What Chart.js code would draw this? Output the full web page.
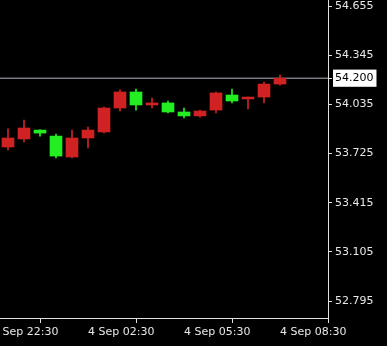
<!DOCTYPE html>
<html>
<head>
<meta charset="utf-8">
<script src="https://cdn.jsdelivr.net/npm/chart.js@4"></script>
<style>
  body { margin: 0; background: #000; }
  canvas { display: block; }
</style>
</head>
<body>
<canvas id="candles" width="387" height="346"></canvas>
<script>
// 30 minute candles, 3 Sep 23:00 -> 4 Sep 08:30
const opens  = [53.766, 53.817, 53.873, 53.835, 53.703, 53.823, 53.861, 54.012, 54.113, 54.031, 54.044, 53.987, 53.962, 53.999, 54.094, 54.069, 54.081, 54.163];
const highs  = [53.880, 53.936, 53.875, 53.848, 53.873, 53.892, 54.018, 54.126, 54.132, 54.075, 54.056, 54.012, 53.999, 54.113, 54.132, 54.081, 54.176, 54.220];
const lows   = [53.747, 53.798, 53.835, 53.697, 53.697, 53.760, 53.855, 53.993, 53.999, 54.012, 53.981, 53.949, 53.955, 53.981, 54.044, 54.006, 54.044, 54.156];
const closes = [53.823, 53.886, 53.854, 53.709, 53.823, 53.873, 54.012, 54.113, 54.031, 54.044, 53.987, 53.962, 53.993, 54.107, 54.056, 54.081, 54.163, 54.200];

const timeTicks  = [-1, 5, 11, 17];
const timeLabels = ['3 Sep 22:30', '4 Sep 02:30', '4 Sep 05:30', '4 Sep 08:30'];
const priceTicks = [52.795, 53.105, 53.415, 53.725, 54.035, 54.345, 54.655];
const lastPrice = 54.200;

const upColor = '#d02222';
const downColor = '#22ee22';

const bodies = opens.map((o, i) => ({ x: i, y: [o, closes[i]] }));
const wicks = highs.map((h, i) => ({ x: i, y: [lows[i], h] }));
const colors = opens.map((o, i) => closes[i] >= o ? upColor : downColor);

Chart.defaults.font.family = 'DejaVu Sans';
Chart.defaults.font.size = 11;

// no extra room for labels that hang over the plot edges
function noPad(s) {
    s.paddingLeft = 0;
    s.paddingRight = 0;
    s.paddingTop = 0;
    s.paddingBottom = 0;
}

const ctx = document.getElementById('candles').getContext('2d');
new Chart(ctx, {
    type: 'bar',
    data: {
        datasets: [
            {
                data: bodies,
                backgroundColor: colors,
                barThickness: 12,
                grouped: false,
                order: 0
            },
            {
                data: wicks,
                backgroundColor: colors,
                barThickness: 1,
                grouped: false,
                order: 1
            },
            {
                type: 'line',
                data: [{ x: -0.5, y: lastPrice }, { x: 20, y: lastPrice }],
                borderColor: '#b4b4c4',
                borderWidth: 1,
                pointRadius: 0,
                order: 2
            }
        ]
    },
    options: {
        responsive: false,
        animation: false,
        layout: { padding: 0 },
        plugins: { legend: { display: false }, tooltip: { enabled: false } },
        scales: {
            x: {
                type: 'linear',
                min: -0.5,
                max: 20,
                offset: false,
                afterBuildTicks: s => { s.ticks = timeTicks.map(v => ({ value: v })); },
                afterFit: s => { s.height = 28; noPad(s); },
                grid: { drawOnChartArea: false, color: '#e0e0e0', tickLength: 5 },
                border: { color: '#e0e0e0' },
                ticks: {
                    color: '#e8e8e8',
                    align: 'start',
                    padding: 3,
                    autoSkip: false,
                    maxRotation: 0,
                    callback: v => timeLabels[timeTicks.indexOf(v)]
                }
            },
            y: {
                position: 'right',
                min: 52.688,
                max: 54.693,
                afterBuildTicks: s => {
                    s.ticks = priceTicks.concat([lastPrice]).map(v => ({ value: v }));
                },
                afterFit: s => { s.width = 59; noPad(s); },
                grid: { drawOnChartArea: false, color: '#e0e0e0', tickLength: 4 },
                border: { color: '#e0e0e0' },
                ticks: {
                    padding: 3,
                    autoSkip: false,
                    color: c => c.tick && c.tick.value === lastPrice ? '#000' : '#e8e8e8',
                    showLabelBackdrop: c => c.tick && c.tick.value === lastPrice,
                    backdropColor: '#ffffff',
                    backdropPadding: { left: 2, right: 3, top: 2, bottom: 2 },
                    callback: v => v.toFixed(3)
                }
            }
        }
    }
});
</script>
</body>
</html>
